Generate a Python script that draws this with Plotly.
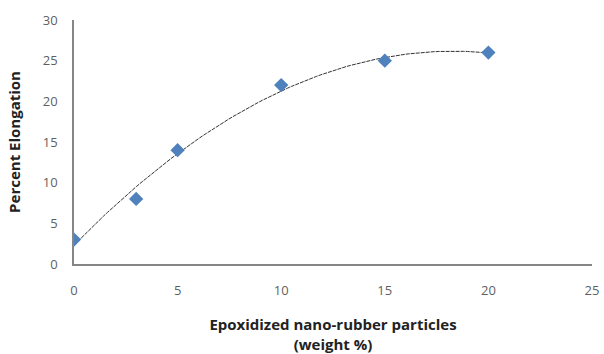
import numpy as np
import plotly.graph_objects as go

weight_pct = [0, 3, 5, 10, 15, 20]
elongation = [3, 8, 14, 22, 25, 26]
x_ticks = [0, 5, 10, 15, 20, 25]
y_ticks = [0, 5, 10, 15, 20, 25, 30]

# Polynomial (order 2) trendline, as in the spreadsheet chart
coef = np.polyfit(weight_pct, elongation, 2)
xt = np.linspace(min(weight_pct), max(weight_pct), 100)
yt = np.polyval(coef, xt)

fig = go.Figure()
fig.add_trace(go.Scatter(x=xt, y=yt, mode="lines",
                         line=dict(color="#333333", width=1, dash="4px,1px"),
                         hoverinfo="skip", showlegend=False))
fig.add_trace(go.Scatter(x=weight_pct, y=elongation, mode="markers",
                         marker=dict(symbol="diamond", size=11, color="#4F81BD"),
                         showlegend=False))

fig.update_layout(
    width=604, height=354,
    margin=dict(l=74, r=12, t=20, b=90),
    plot_bgcolor="white", paper_bgcolor="white",
    font=dict(family="Open Sans, Liberation Sans, sans-serif", color="#5f5f5f", size=13),
    xaxis=dict(range=[0, 25], tickvals=x_ticks, showgrid=False, zeroline=False,
               showline=True, linecolor="#868686", linewidth=1.5, ticks="",
               ticklen=0, automargin=False, ticklabelstandoff=14,
               ticklabeloverflow="allow",
               title=dict(text="<b>Epoxidized nano-rubber particles<br>(weight %)</b>",
                          font=dict(size=15, color="#222222"), standoff=25)),
    yaxis=dict(range=[0, 30], tickvals=y_ticks, showgrid=False, zeroline=False,
               showline=True, linecolor="#868686", linewidth=1.5, ticks="",
               automargin=False, ticklabelstandoff=12,
               title=dict(text="<b>Percent Elongation</b>",
                          font=dict(size=15, color="#222222"), standoff=19)),
)
fig.write_html("out.html", config={"displayModeBar": False},
               post_script="document.body.style.margin='0';document.body.style.overflow='hidden';")
